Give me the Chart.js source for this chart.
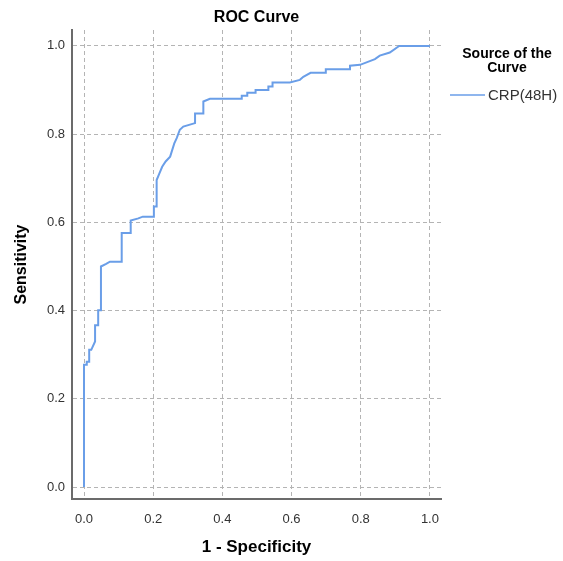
<!DOCTYPE html>
<html>
<head>
<meta charset="utf-8">
<script src="https://cdn.jsdelivr.net/npm/chart.js@4"></script>
<style>
  html, body { margin: 0; padding: 0; background: #fff; }
  #wrap { width: 563px; height: 561px; }
</style>
</head>
<body>
<div id="wrap"><canvas id="roc" width="563" height="561"></canvas></div>
<script>
// ====================== DATA ======================
const chartTitle = "ROC Curve";
const seriesName = "CRP(48H)";
const legendTitle = ["Source of the", "Curve"];
const tickValues = [0, 0.2, 0.4, 0.6, 0.8, 1.0];

// 1 - Specificity (x) and Sensitivity (y), corners of the step curve
const fpr = [0, 0, 0.008, 0.008, 0.015, 0.015, 0.021, 0.032, 0.032, 0.041, 0.041, 0.049, 0.049,
  0.064, 0.075, 0.109, 0.109, 0.135, 0.135, 0.157, 0.170, 0.202, 0.202, 0.210, 0.210, 0.218,
  0.226, 0.236, 0.249, 0.261, 0.268, 0.277, 0.287, 0.321, 0.321, 0.345, 0.345, 0.364, 0.456,
  0.456, 0.472, 0.472, 0.496, 0.496, 0.533, 0.533, 0.545, 0.545, 0.595, 0.624, 0.634, 0.655,
  0.699, 0.699, 0.769, 0.769, 0.798, 0.841, 0.855, 0.884, 0.911, 1.0];
const tpr = [0, 0.277, 0.277, 0.284, 0.284, 0.311, 0.311, 0.330, 0.367, 0.367, 0.401, 0.401, 0.500,
  0.506, 0.511, 0.511, 0.576, 0.576, 0.604, 0.609, 0.613, 0.613, 0.636, 0.636, 0.696, 0.711,
  0.726, 0.738, 0.749, 0.779, 0.791, 0.810, 0.817, 0.825, 0.847, 0.847, 0.874, 0.880, 0.880,
  0.887, 0.887, 0.894, 0.894, 0.900, 0.900, 0.908, 0.908, 0.917, 0.917, 0.923, 0.930, 0.939,
  0.939, 0.947, 0.947, 0.955, 0.957, 0.970, 0.978, 0.985, 1.0, 1.0];

// ====================== STYLE ======================
const LINE_COLOR = "#6a9ee8";
const GRID_COLOR = "#b4b4b4";
const AXIS_COLOR = "#6b6b6b";
const TEXT_COLOR = "#333333";
const FONT = "'Liberation Sans', Arial, sans-serif";

const points = fpr.map((x, i) => ({ x: x, y: tpr[i] }));

// title + legend drawn beside the plot, like the SPSS output
const sidePlugin = {
  id: "side",
  afterDraw(chart) {
    const ctx = chart.ctx;
    const area = chart.chartArea;
    ctx.save();
    ctx.fillStyle = "#000";
    ctx.textAlign = "center";
    ctx.textBaseline = "middle";
    ctx.font = "bold 16px " + FONT;
    ctx.fillText(chartTitle, (area.left + area.right) / 2, 18);

    ctx.font = "bold 14px " + FONT;
    ctx.fillText(legendTitle[0], 507, 54);
    ctx.fillText(legendTitle[1], 507, 68);

    ctx.strokeStyle = LINE_COLOR;
    ctx.lineWidth = 1.5;
    ctx.beginPath();
    ctx.moveTo(450, 95);
    ctx.lineTo(485, 95);
    ctx.stroke();

    ctx.fillStyle = TEXT_COLOR;
    ctx.textAlign = "left";
    ctx.font = "15px " + FONT;
    ctx.fillText(seriesName, 488, 96);
    ctx.restore();
  }
};

function fixTicks(scale) {
  scale.ticks = tickValues.map(v => ({ value: v }));
}

new Chart(document.getElementById("roc"), {
  type: "scatter",
  data: {
    datasets: [{
      label: seriesName,
      data: points,
      showLine: true,
      borderColor: LINE_COLOR,
      borderWidth: 2,
      pointRadius: 0,
      tension: 0,
      fill: false
    }]
  },
  options: {
    responsive: false,
    animation: false,
    layout: { padding: { left: 0, right: 122, top: 30, bottom: 0 } },
    plugins: {
      legend: { display: false },
      title: { display: false },
      tooltip: { enabled: false }
    },
    scales: {
      x: {
        type: "linear",
        min: -0.0347,
        max: 1.032,
        afterBuildTicks: fixTicks,
        afterFit(scale) { scale.height = 62; },
        grid: { color: GRID_COLOR, drawTicks: false },
        // in v4 border.dash sets the dash of the grid lines
        border: { display: true, color: AXIS_COLOR, width: 2, dash: [4, 3] },
        ticks: {
          color: TEXT_COLOR,
          font: { family: FONT, size: 13 },
          padding: 13,
          maxRotation: 0,
          callback: v => v.toFixed(1)
        },
        title: {
          display: true,
          text: "1 - Specificity",
          color: "#000",
          font: { family: FONT, size: 17, weight: "bold" },
          padding: { top: 0, bottom: 3 }
        }
      },
      y: {
        type: "linear",
        min: -0.027,
        max: 1.036,
        afterBuildTicks: fixTicks,
        afterFit(scale) { scale.width = 72; },
        grid: { color: GRID_COLOR, drawTicks: false },
        border: { display: true, color: AXIS_COLOR, width: 2, dash: [4, 3] },
        ticks: {
          color: TEXT_COLOR,
          font: { family: FONT, size: 13 },
          padding: 7,
          callback: v => v.toFixed(1)
        },
        title: {
          display: true,
          text: "Sensitivity",
          color: "#000",
          font: { family: FONT, size: 16, weight: "bold" },
          padding: { top: 12, bottom: 0 }
        }
      }
    }
  },
  plugins: [sidePlugin]
});
</script>
</body>
</html>
